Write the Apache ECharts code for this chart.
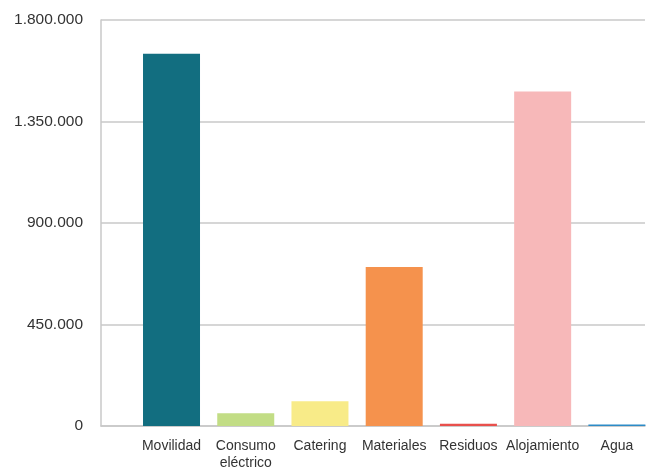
<!DOCTYPE html>
<html><head><meta charset="utf-8">
<script src="https://cdn.jsdelivr.net/npm/echarts@6/dist/echarts.min.js"></script>
<style>html,body{margin:0;padding:0;background:#fff}#c{width:650px;height:468px}</style>
</head><body><div id="c"></div>
<script>
var categories = ['Movilidad', 'Consumo\neléctrico', 'Catering', 'Materiales', 'Residuos', 'Alojamiento', 'Agua'];
var values = [1650000, 57000, 110000, 705000, 10000, 1483000, 7000];
var colors = ['#126E80', '#C2DD85', '#F8EB88', '#F5924D', '#E8504C', '#F7B8B9', '#2C8BC7'];
var yTicks = [0, 450000, 900000, 1350000, 1800000];

function fmt(v){ return String(v).replace(/\B(?=(\d{3})+(?!\d))/g, '.'); }

var chart = echarts.init(document.getElementById('c'), null, {renderer:'canvas'});
chart.setOption({
  animation: false,
  backgroundColor: '#fff',
  grid: [
    {left: 101, right: 5, top: 20, bottom: 42, containLabel: false, outerBoundsMode: 'none'},
    {left: 134.4, right: -4, top: 20, bottom: 42, containLabel: false, outerBoundsMode: 'none'}
  ],
  xAxis: [
    {gridIndex: 0, type: 'value', min: 0, max: 1, show: true,
     axisLine: {show: true, onZero: false, lineStyle: {color: '#c8c8c8', width: 1.5}},
     axisTick: {show: false}, axisLabel: {show: false}, splitLine: {show: false}},
    {gridIndex: 1, type: 'category', data: categories,
     axisLine: {show: false}, axisTick: {show: false},
     axisLabel: {interval: 0, color: '#333', fontFamily: 'Liberation Sans Narrow, Liberation Sans, Arial', fontSize: 14, margin: 12, lineHeight: 17}}
  ],
  yAxis: [
    {gridIndex: 0, type: 'value', min: yTicks[0], max: yTicks[yTicks.length-1], interval: yTicks[1]-yTicks[0],
     axisLine: {show: true, lineStyle: {color: '#c8c8c8', width: 1.5}}, axisTick: {show: false},
     splitLine: {show: true, lineStyle: {color: '#c8c8c8', width: 1.5}},
     axisLabel: {color: '#333', fontSize: 15.5, fontFamily: 'Liberation Sans, Arial', margin: 18, formatter: fmt}},
    {gridIndex: 1, type: 'value', min: yTicks[0], max: yTicks[yTicks.length-1], show: false, splitLine: {show: false}}
  ],
  series: [{
    type: 'bar', xAxisIndex: 1, yAxisIndex: 1,
    barWidth: 57, z: 10,
    itemStyle: {borderWidth: 0, borderRadius: 0},
    data: values.map(function(v, i){ return {value: v, itemStyle: {color: colors[i], borderWidth: 0}}; })
  }]
});
</script></body></html>
